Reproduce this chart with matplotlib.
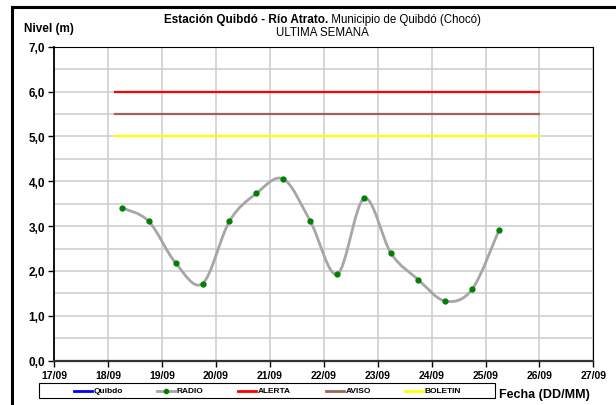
import numpy as np
import pandas as pd
import matplotlib
matplotlib.use("Agg")
import matplotlib.pyplot as plt
import matplotlib.dates as mdates
from matplotlib.path import Path
from matplotlib.patches import PathPatch, Rectangle
from matplotlib.lines import Line2D
from matplotlib.ticker import MultipleLocator, FuncFormatter

plt.rcParams['font.family'] = ['Liberation Sans', 'DejaVu Sans']

# readings (twice daily, 06:00 and 18:00)
fechas = pd.date_range("2023-09-18 06:00", periods=15, freq="12h")
radio = [3.41, 3.11, 2.18, 1.72, 3.11, 3.73, 4.05, 3.11, 1.93, 3.62,
         2.39, 1.81, 1.33, 1.59, 2.91]

# umbrales
umbral_x = [pd.Timestamp("2023-09-18 03:00"), pd.Timestamp("2023-09-26 00:00")]
alerta = 6.0
aviso = 5.5
boletin = 5.0

series_names = ["Quibdo", "RADIO", "ALERTA", "AVISO", "BOLETIN"]
series_colors = ["#0000FF", "#A6A6A6", "#FF0000", "#A0605E", "#FFFF00"]

W, H = 616, 406
fig = plt.figure(figsize=(W / 100, H / 100), dpi=100)
ax = fig.add_axes([54.3 / W, 1 - 361.7 / H, 539 / W, 314 / H])

# smoothed line like excel (catmull-rom bezier)
x = mdates.date2num(fechas)
y = np.array(radio)
pts = np.column_stack([x, y])
verts = [pts[0]]
codes = [Path.MOVETO]
for i in range(len(pts) - 1):
    p0 = pts[i - 1] if i > 0 else pts[i]
    p1 = pts[i]
    p2 = pts[i + 1]
    p3 = pts[i + 2] if i + 2 < len(pts) else pts[i + 1]
    c1 = p1 + (p2 - p0) / 6
    c2 = p2 - (p3 - p1) / 6
    verts += [c1, c2, p2]
    codes += [Path.CURVE4] * 3
ax.add_patch(PathPatch(Path(verts, codes), facecolor="none",
                       edgecolor=series_colors[1], lw=2.0, zorder=3))
ax.plot(fechas, radio, ls="none", marker="o", ms=3.5, color="#008000", zorder=4)

ax.plot(umbral_x, [alerta] * 2, color=series_colors[2], lw=1.6, zorder=3)
ax.plot(umbral_x, [aviso] * 2, color=series_colors[3], lw=1.6, zorder=3)
ax.plot(umbral_x, [boletin] * 2, color=series_colors[4], lw=1.6, zorder=3)

ax.set_xlim(pd.Timestamp("2023-09-17"), pd.Timestamp("2023-09-27"))
ax.set_ylim(0, 7)
ax.xaxis.set_major_locator(mdates.DayLocator())
ax.xaxis.set_major_formatter(mdates.DateFormatter("%d/%m"))
ax.yaxis.set_major_locator(MultipleLocator(1))
ax.yaxis.set_minor_locator(MultipleLocator(0.5))
ax.yaxis.set_major_formatter(FuncFormatter(lambda v, p: f"{v:.1f}".replace(".", ",")))
ax.grid(True, which="both", color="#CCCCCC", lw=1.1)
ax.set_axisbelow(True)
ax.tick_params(axis="y", which="minor", length=0)
ax.tick_params(axis="both", which="major", direction="out", length=4.5,
               width=1, pad=2)
ax.tick_params(axis="x", labelsize=7.5)
ax.tick_params(axis="y", labelsize=8.5)
for t in ax.get_xticklabels() + ax.get_yticklabels():
    t.set_fontweight("bold")
for s in ["top", "right"]:
    ax.spines[s].set_linewidth(0.8)
ax.spines["left"].set_linewidth(1.3)
ax.spines["bottom"].set_linewidth(1.6)
ax.spines["bottom"].set_color("#333333")

# titles
fig.text(328 / W, 1 - 19.5 / H, "Estación Quibdó - Río Atrato.", ha="right",
         va="center", fontsize=8.5, fontweight="bold")
fig.text(328 / W, 1 - 19.5 / H, " Municipio de Quibdó (Chocó)", ha="left",
         va="center", fontsize=8.3)
fig.text(322 / W, 1 - 32.5 / H, "ULTIMA SEMANA", ha="center",
         va="center", fontsize=8.3)
fig.text(24 / W, 1 - 29 / H, "Nivel (m)", ha="left", va="center",
         fontsize=8.5, fontweight="bold")
fig.text(590 / W, 1 - 395 / H, "Fecha (DD/MM)", ha="right", va="center",
         fontsize=9, fontweight="bold")

# legend drawn by hand to match the excel layout
fig.add_artist(Rectangle((39 / W, 1 - 399 / H), 456 / W, 15.5 / H,
                         facecolor="white", edgecolor="black", lw=0.8,
                         transform=fig.transFigure))
leg_x = [74, 157, 238, 326, 405]
leg_y = 1 - 391.5 / H
for name, col, lx in zip(series_names, series_colors, leg_x):
    fig.add_artist(Line2D([lx / W, (lx + 18) / W], [leg_y, leg_y], color=col,
                          lw=2, transform=fig.transFigure))
    if name == "RADIO":
        fig.add_artist(Line2D([(lx + 9) / W], [leg_y], ls="none", marker="o",
                              ms=3, color="#008000", transform=fig.transFigure))
    fig.text((lx + 19.5) / W, leg_y, name, ha="left", va="center",
             fontsize=6, fontweight="bold")

# outer frame
fig.add_artist(Line2D([12 / W, 12 / W], [0, 1 - 8 / H], color="black",
                      lw=2.2, transform=fig.transFigure))
fig.add_artist(Line2D([12 / W, 1], [1 - 8 / H, 1 - 8 / H], color="black",
                      lw=2.2, transform=fig.transFigure))

fig.savefig("out.png", dpi=100)
